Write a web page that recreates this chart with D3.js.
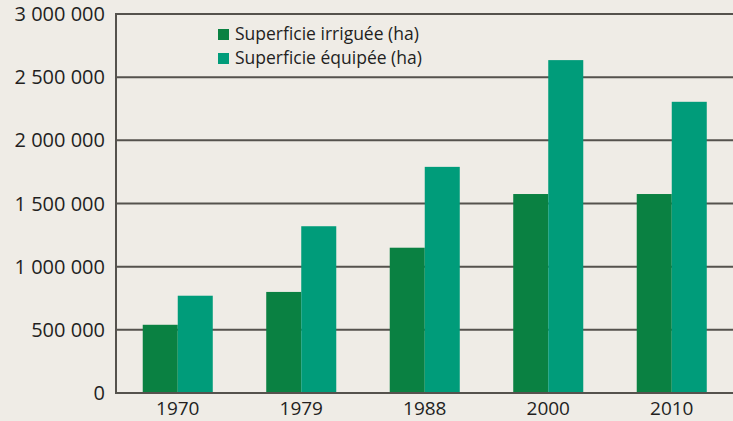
<!DOCTYPE html>
<html>
<head>
<meta charset="utf-8">
<script src="https://cdn.jsdelivr.net/npm/d3@7"></script>
<style>
  html, body { margin: 0; padding: 0; background: #efece6; }
  svg { display: block; }
  text { font-family: "Open Sans", "Noto Sans", sans-serif; fill: #231f1e; }
</style>
</head>
<body>
<div id="chart"></div>
<script>
  // Data
  const years = ['1970', '1979', '1988', '2000', '2010'];
  const irriguee = [540000, 800000, 1150000, 1575000, 1575000];
  const equipee = [770000, 1320000, 1790000, 2635000, 2305000];
  const seriesNames = ['Superficie irriguée (ha)', 'Superficie équipée (ha)'];
  const yTicks = [0, 500000, 1000000, 1500000, 2000000, 2500000, 3000000];

  const COLORS = ['#0a8142', '#009c7a'];
  const LINE = '#55524d';

  const width = 733, height = 421;
  const margin = { left: 116, top: 14, bottom: 28 };

  const svg = d3.select('#chart').append('svg')
    .attr('width', width)
    .attr('height', height);

  const x = d3.scaleBand()
    .domain(years)
    .range([margin.left, 733.5])
    .paddingInner(0.433)
    .paddingOuter(0.2165);

  const xs = d3.scaleBand()
    .domain([0, 1])
    .range([0, x.bandwidth()]);

  const y = d3.scaleLinear()
    .domain([0, 3000000])
    .range([height - margin.bottom, margin.top]);

  const fmt = (v) => d3.format(',')(v).replace(/,/g, ' ');

  // Gridlines
  svg.append('g')
    .selectAll('line')
    .data(yTicks)
    .join('line')
    .attr('x1', margin.left)
    .attr('x2', width)
    .attr('y1', (d) => y(d))
    .attr('y2', (d) => y(d))
    .attr('stroke', LINE)
    .attr('stroke-width', 2);

  // Bars
  const rows = years.map((yr, i) => ({ year: yr, values: [irriguee[i], equipee[i]] }));
  const groups = svg.append('g')
    .selectAll('g')
    .data(rows)
    .join('g')
    .attr('transform', (d) => 'translate(' + x(d.year) + ',0)');

  groups.selectAll('rect')
    .data((d) => d.values.map((v, k) => ({ v: v, k: k })))
    .join('rect')
    .attr('x', (d) => xs(d.k))
    .attr('width', xs.bandwidth())
    .attr('y', (d) => y(d.v))
    .attr('height', (d) => y(0) - y(d.v))
    .attr('fill', (d) => COLORS[d.k]);

  // Axes lines
  svg.append('line')
    .attr('x1', margin.left).attr('x2', margin.left)
    .attr('y1', y(3000000) - 1).attr('y2', y(0) + 1)
    .attr('stroke', LINE).attr('stroke-width', 2);
  svg.append('line')
    .attr('x1', margin.left).attr('x2', width)
    .attr('y1', y(0)).attr('y2', y(0))
    .attr('stroke', LINE).attr('stroke-width', 2);

  // Y labels
  svg.append('g')
    .selectAll('text')
    .data(yTicks)
    .join('text')
    .attr('x', 105)
    .attr('y', (d) => y(d) + 7)
    .attr('text-anchor', 'end')
    .attr('font-size', '20px')
    .text(fmt);

  // X labels
  svg.append('g')
    .selectAll('text')
    .data(years)
    .join('text')
    .attr('x', (d) => x(d) + x.bandwidth() / 2)
    .attr('y', 415)
    .attr('text-anchor', 'middle')
    .attr('font-size', '19px')
    .text((d) => d);

  // Legend
  const legend = svg.append('g').attr('transform', 'translate(218, 29)');
  const items = legend.selectAll('g')
    .data(seriesNames)
    .join('g')
    .attr('transform', (d, i) => 'translate(0,' + (i * 24) + ')');
  items.append('rect')
    .attr('width', 11)
    .attr('height', 11)
    .attr('fill', (d, i) => COLORS[i]);
  items.append('text')
    .attr('x', 17)
    .attr('y', 11)
    .attr('font-size', '17.5px')
    .text((d) => d);
</script>
</body>
</html>
